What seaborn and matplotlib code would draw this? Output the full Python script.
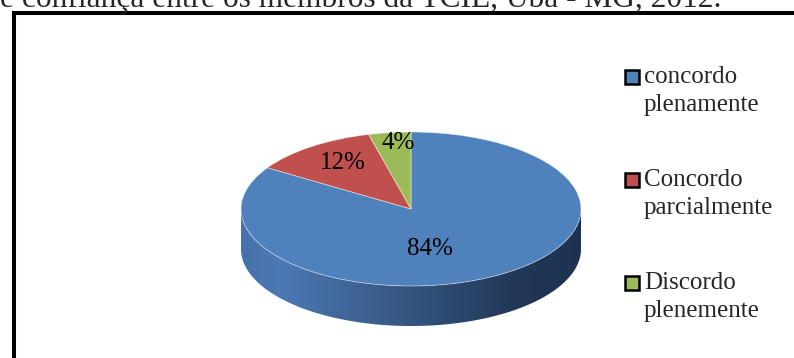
import numpy as np
import matplotlib
matplotlib.use("Agg")
import matplotlib.pyplot as plt
import seaborn as sns
from matplotlib.patches import Polygon, Rectangle
from matplotlib.colors import LinearSegmentedColormap

# ---- data ----
categories = ["concordo plenamente", "Concordo parcialmente", "Discordo plenemente"]
values = [84, 12, 4]
title_text = "e confiança entre os membros da TCIE, Ubá - MG, 2012."

# ---- style ----
sns.set_style("white")
colors = sns.color_palette(["#4F81BD", "#C0504D", "#9BBB59"])
plt.rcParams["font.family"] = ["Liberation Serif", "DejaVu Serif"]

W, H = 794, 358
fig = plt.figure(figsize=(W / 100, H / 100), dpi=100)

# pie geometry in pixels
cx, cy = 411, 209
rx, ry = 170, 77
depth_px = 40
depth = depth_px / ry

ax_left = cx - 1.1 * rx
ax_w = 2.2 * rx
ax_top = cy - 1.1 * ry
ax_h = (2.2 + depth) * ry
ax = fig.add_axes([ax_left / W, 1 - (ax_top + ax_h) / H, ax_w / W, ax_h / H])

wedges, texts, autotexts = ax.pie(
    values, colors=colors, startangle=90, counterclock=False,
    autopct="%1.0f%%", pctdistance=0.65,
    wedgeprops=dict(linewidth=0.6, edgecolor=(1, 1, 1, 0.5)),
    textprops=dict(fontsize=18, color="black"),
)
for w in wedges:
    w.set_zorder(3)

# 3D side band (front half of the ellipse), shaded with a gradient
theta = np.linspace(np.pi, 2 * np.pi, 300)
top = np.c_[np.cos(theta), np.sin(theta)]
bot = np.c_[np.cos(theta[::-1]), np.sin(theta[::-1]) - depth]
side = Polygon(np.vstack([top, bot]), closed=True, facecolor="none", edgecolor="none")
ax.add_patch(side)
side_cmap = LinearSegmentedColormap.from_list(
    "side", [(0, "#4672AA"), (0.12, "#4B79B3"), (0.5, "#35547F"),
             (0.8, "#213858"), (1, "#1E3150")])
grad = np.linspace(0, 1, 256)[None, :]
im = ax.imshow(grad, extent=[-1, 1, -1 - depth, 0], cmap=side_cmap,
               aspect="auto", zorder=1, interpolation="bilinear")
im.set_clip_path(side)

# label placement (Excel style)
label_pos = [(0.11, -0.52), (-0.40, 0.60), (-0.076, 0.86)]
for t, p in zip(autotexts, label_pos):
    t.set_position(p)
    t.set_zorder(5)

ax.set_aspect("auto")
ax.set_xlim(-1.1, 1.1)
ax.set_ylim(-1.1 - depth, 1.1)
ax.axis("off")

# legend (marker aligned with first line of each label)
leg_x_box, leg_x_txt = 625, 644
leg_y = [77, 180, 283]
for cat, col, y in zip(categories, colors, leg_y):
    fig.patches.append(Rectangle((leg_x_box / W, 1 - (y + 7) / H), 14 / W, 14 / H,
                                 transform=fig.transFigure, facecolor=col,
                                 edgecolor="black", linewidth=1.8))
    first, second = cat.split(" ", 1)
    fig.text(leg_x_txt / W, 1 - (y + 6) / H, first,
             fontsize=18, va="baseline", ha="left")
    fig.text(leg_x_txt / W, 1 - (y + 34) / H, second,
             fontsize=18, va="baseline", ha="left")

# outer frame (extends beyond the image)
fig.patches.append(Rectangle((13.5 / W, -0.2), 1.2, 1 - 12.5 / H + 0.2,
                             transform=fig.transFigure, facecolor="none",
                             edgecolor="black", linewidth=2.9))

# cut title
fig.text(721 / W, 1 - 7 / H, title_text, fontsize=22.6, ha="right", va="baseline")

fig.savefig("out.png", dpi=100)
